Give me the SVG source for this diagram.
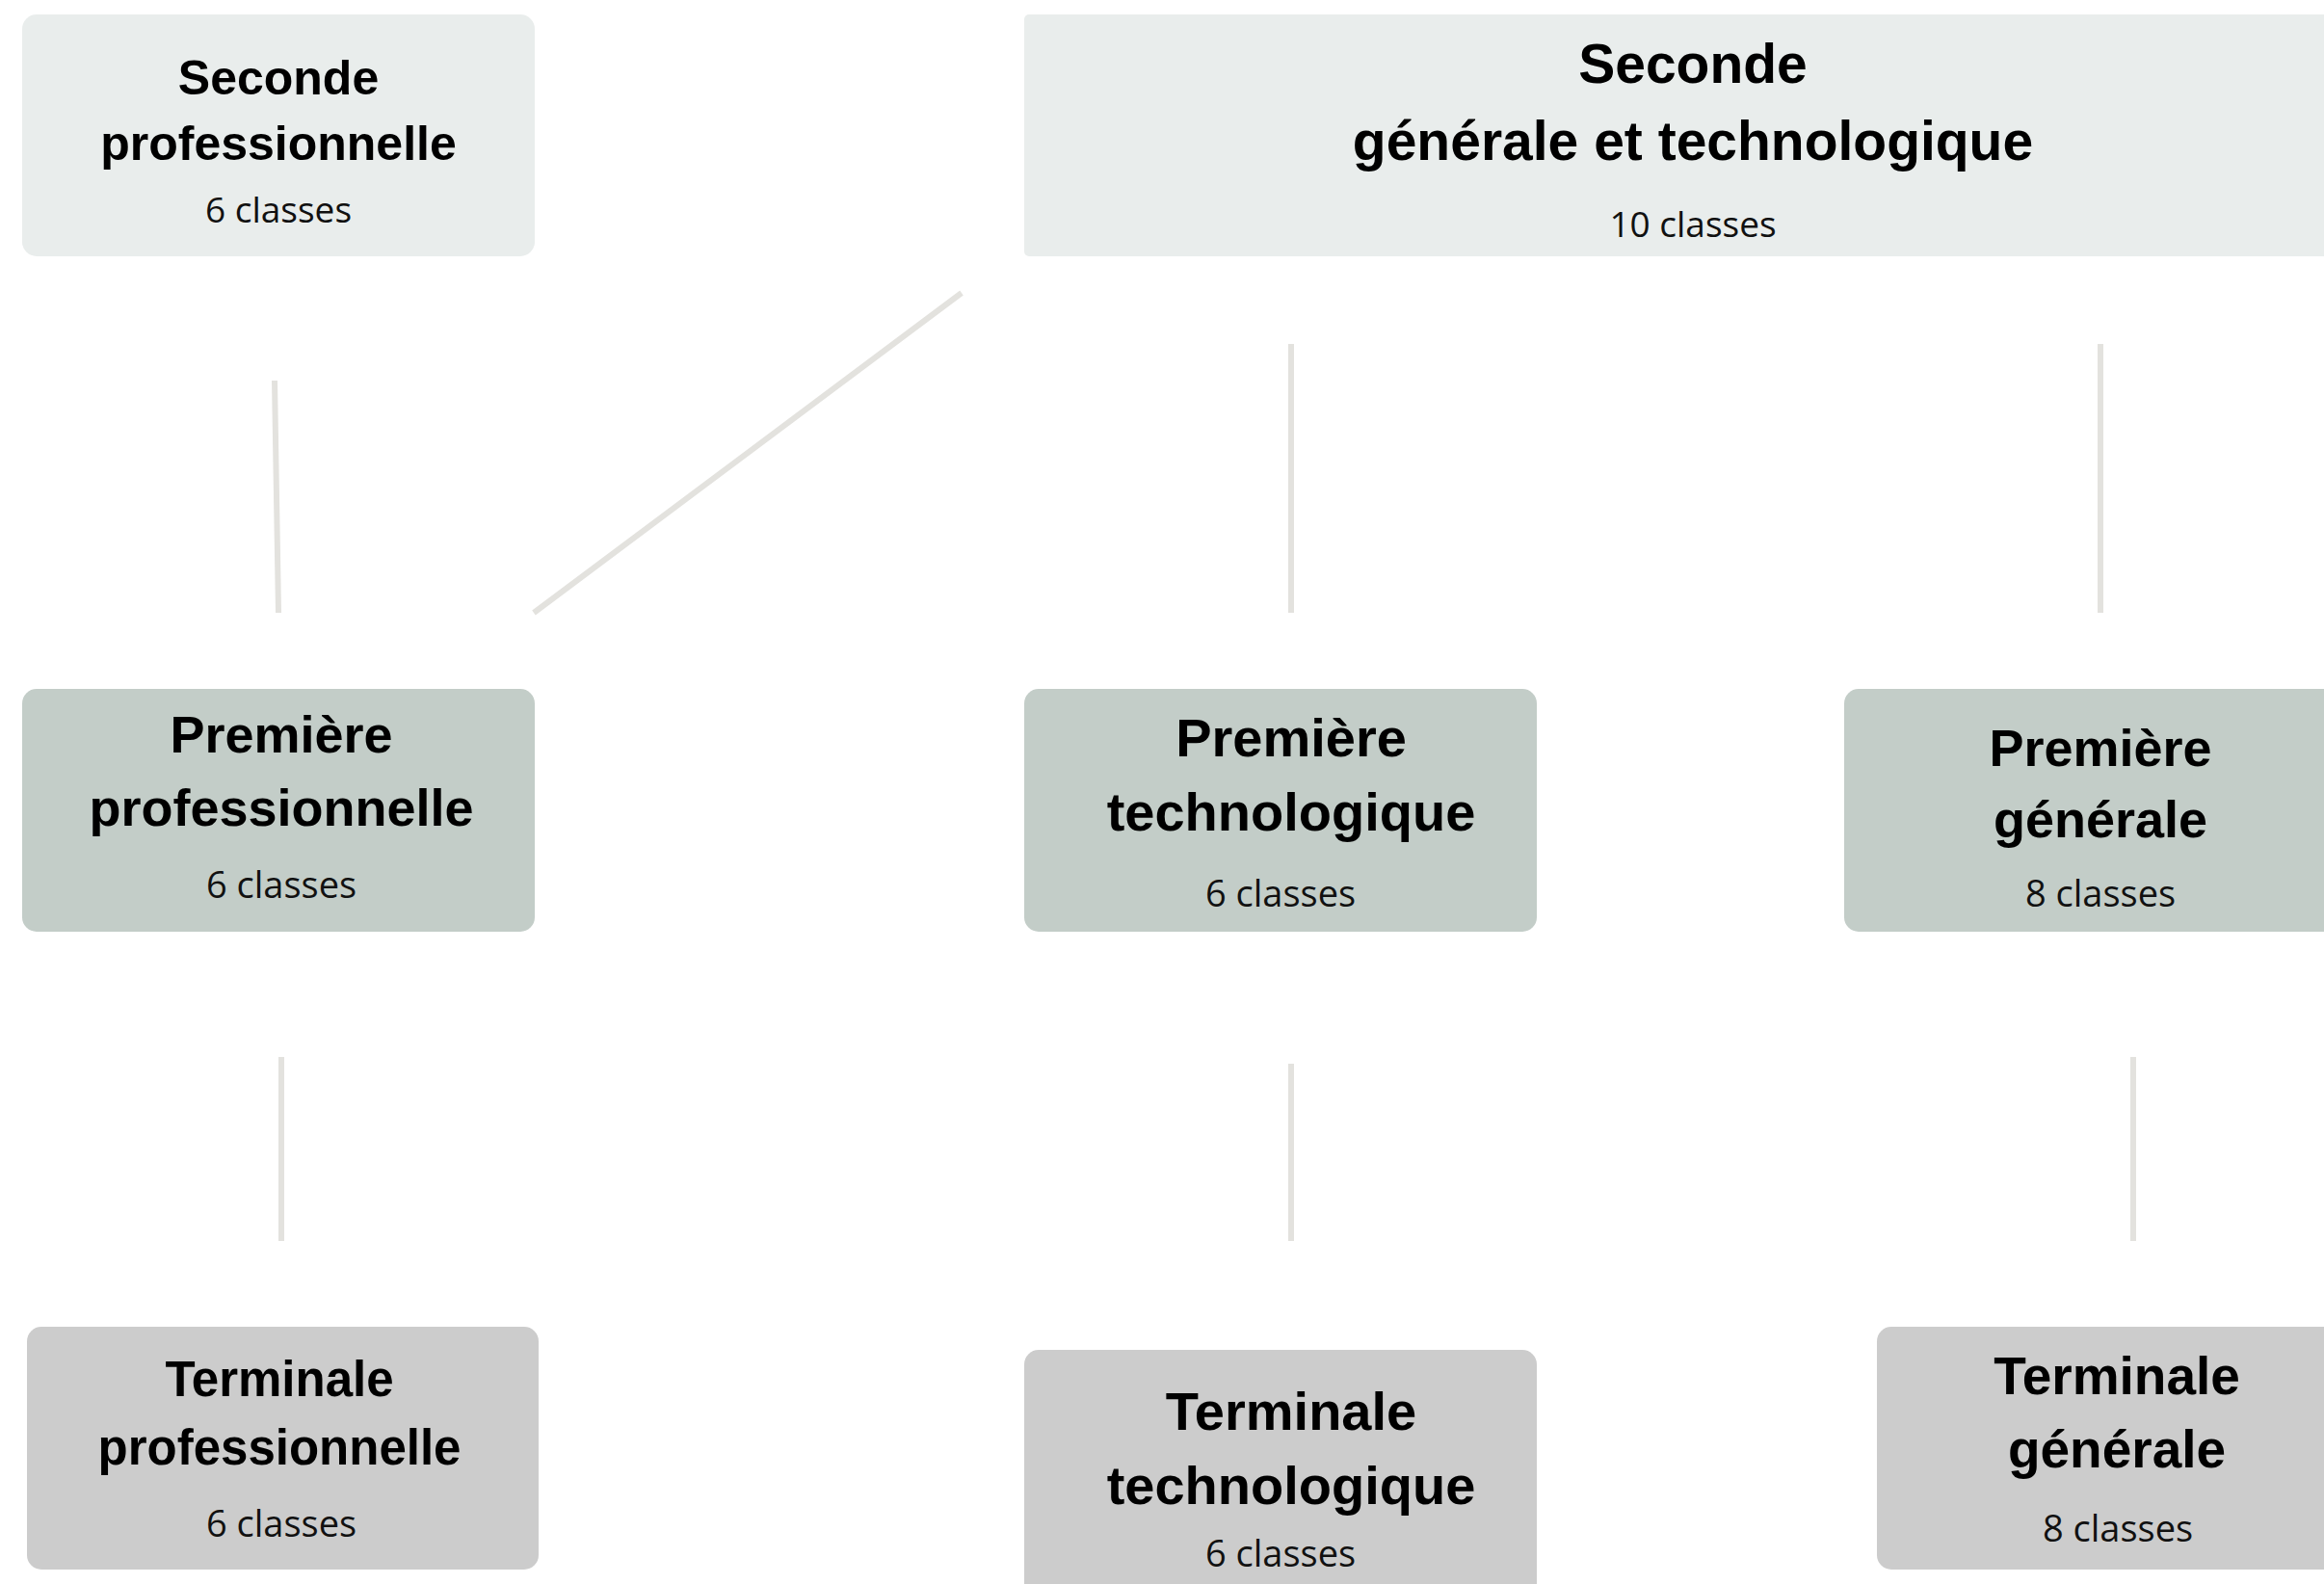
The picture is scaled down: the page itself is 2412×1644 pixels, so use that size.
<svg xmlns="http://www.w3.org/2000/svg" width="2412" height="1644" viewBox="0 0 2412 1644">
<style>
.b{font-family:"Liberation Sans",Arial,sans-serif;font-weight:bold;fill:#000;text-anchor:middle}
.s{font-family:"Open Sans","Noto Sans",sans-serif;fill:#111;text-anchor:middle}
.l1{fill:#e9edec}
.l2{fill:#c3cdc8}
.l3{fill:#cccccc}
.c{stroke:#e3e2de;stroke-width:6;fill:none}
</style>
<rect width="2412" height="1644" fill="#ffffff"/>
<g id="connectors">
<line class="c" x1="285" y1="395" x2="289" y2="636"/>
<line class="c" x1="998" y1="304" x2="554" y2="636"/>
<line class="c" x1="1340" y1="357" x2="1340" y2="636"/>
<line class="c" x1="2180" y1="357" x2="2180" y2="636"/>
<line class="c" x1="292" y1="1097" x2="292" y2="1288"/>
<line class="c" x1="1340" y1="1104" x2="1340" y2="1288"/>
<line class="c" x1="2214" y1="1097" x2="2214" y2="1288"/>
</g>
<g id="seconde-pro">
<rect class="l1" x="23" y="15" width="532" height="251" rx="15"/>
<text class="b" x="289" y="98" font-size="50">Seconde</text>
<text class="b" x="289" y="166" font-size="50">professionnelle</text>
<text class="s" x="289" y="231" font-size="37">6 classes</text>
</g>
<g id="seconde-gt">
<rect class="l1" x="1063" y="15" width="1400" height="251" rx="5"/>
<text class="b" x="1757" y="86" font-size="57">Seconde</text>
<text class="b" x="1757" y="166" font-size="57">générale et technologique</text>
<text class="s" x="1757" y="246" font-size="37">10 classes</text>
</g>
<g id="premiere-pro">
<rect class="l2" x="23" y="715" width="532" height="252" rx="15"/>
<text class="b" x="292" y="781" font-size="54">Première</text>
<text class="b" x="292" y="857" font-size="54">professionnelle</text>
<text class="s" x="292" y="932" font-size="38">6 classes</text>
</g>
<g id="premiere-techno">
<rect class="l2" x="1063" y="715" width="532" height="252" rx="15"/>
<text class="b" x="1340" y="785" font-size="56">Première</text>
<text class="b" x="1340" y="862" font-size="56">technologique</text>
<text class="s" x="1329" y="941" font-size="38">6 classes</text>
</g>
<g id="premiere-gen">
<rect class="l2" x="1914" y="715" width="560" height="252" rx="15"/>
<text class="b" x="2180" y="795" font-size="54">Première</text>
<text class="b" x="2180" y="869" font-size="54">générale</text>
<text class="s" x="2180" y="941" font-size="38">8 classes</text>
</g>
<g id="terminale-pro">
<rect class="l3" x="28" y="1377" width="531" height="252" rx="15"/>
<text class="b" x="290" y="1449" font-size="51">Terminale</text>
<text class="b" x="290" y="1520" font-size="51">professionnelle</text>
<text class="s" x="292" y="1595" font-size="38">6 classes</text>
</g>
<g id="terminale-techno">
<rect class="l3" x="1063" y="1401" width="532" height="280" rx="15"/>
<text class="b" x="1340" y="1484" font-size="56">Terminale</text>
<text class="b" x="1340" y="1561" font-size="56">technologique</text>
<text class="s" x="1329" y="1626" font-size="38">6 classes</text>
</g>
<g id="terminale-gen">
<rect class="l3" x="1948" y="1377" width="520" height="252" rx="15"/>
<text class="b" x="2197" y="1447" font-size="55">Terminale</text>
<text class="b" x="2197" y="1523" font-size="55">générale</text>
<text class="s" x="2198" y="1600" font-size="38">8 classes</text>
</g>
</svg>
